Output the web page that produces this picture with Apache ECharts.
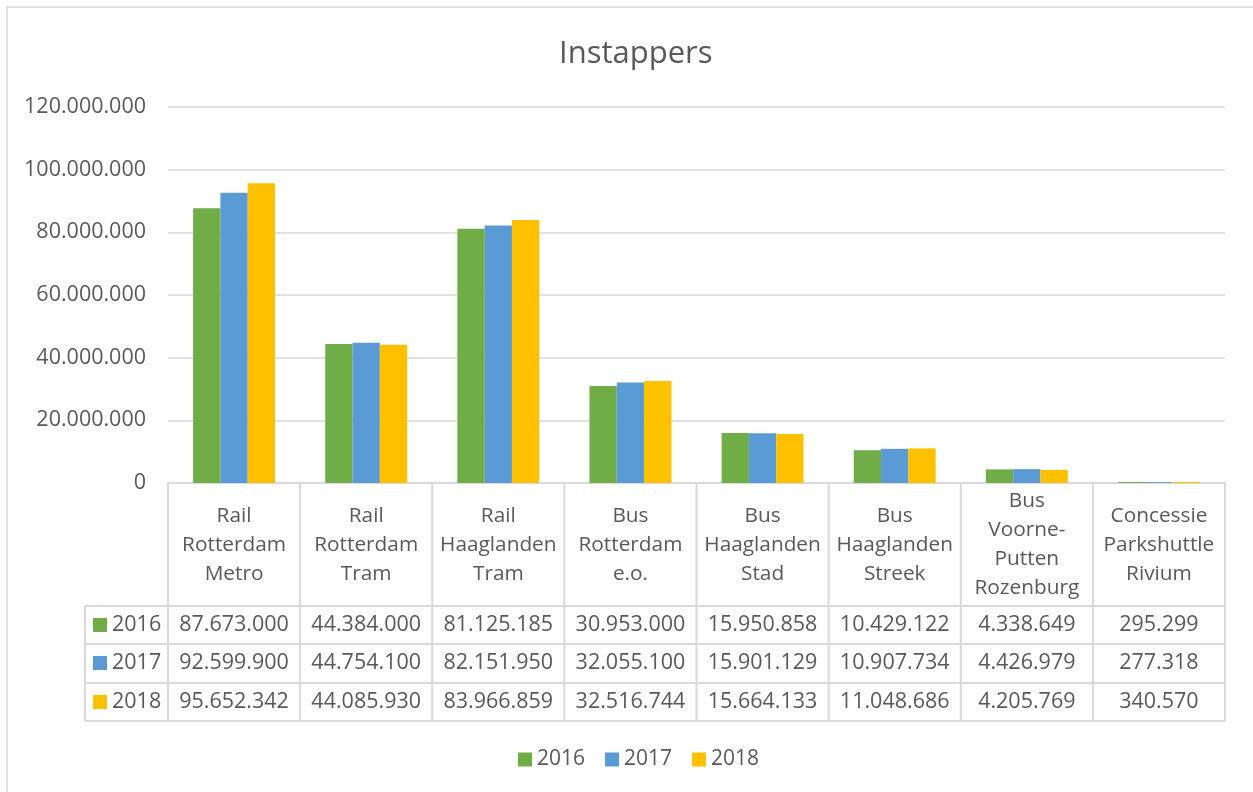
<!DOCTYPE html>
<html><head><meta charset="utf-8">
<script src="https://cdn.jsdelivr.net/npm/echarts@6/dist/echarts.min.js"></script>
<style>html,body{margin:0;padding:0;background:#fff}#c{width:1253px;height:792px}</style>
</head><body><div id="c"></div>
<script>
const categories = ['Rail\nRotterdam\nMetro','Rail\nRotterdam\nTram','Rail\nHaaglanden\nTram','Bus\nRotterdam\ne.o.','Bus\nHaaglanden\nStad','Bus\nHaaglanden\nStreek','Bus\nVoorne-\nPutten\nRozenburg','Concessie\nParkshuttle\nRivium'];
const seriesNames = ['2016','2017','2018'];
const v2016 = [87673000,44384000,81125185,30953000,15950858,10429122,4338649,295299];
const v2017 = [92599900,44754100,82151950,32055100,15901129,10907734,4426979,277318];
const v2018 = [95652342,44085930,83966859,32516744,15664133,11048686,4205769,340570];
const yTicks = [0,20000000,40000000,60000000,80000000,100000000,120000000];
const colors = ['#70AD47','#5B9BD5','#FFC000'];
const allValues = [v2016,v2017,v2018];

const FONT = 'Open Sans';
const TXT = '#595959';
const LINE = '#d9d9d9';
const NUM = 21.5;
const fmt = n => String(n).replace(/\B(?=(\d{3})+(?!\d))/g, '.');

const G = {left:168, right:28, top:107, bottom:309};
const rowCenters = [625, 663, 702]; // pixel rows of data table
const chart = echarts.init(document.getElementById('c'), null, {renderer:'canvas'});

const xAxes = [{
  type:'category', data:categories, gridIndex:0, position:'bottom',
  axisLine:{show:true, lineStyle:{color:LINE, width:2}},
  axisTick:{show:false},
  axisLabel:{interval:0, color:TXT, fontFamily:FONT, fontSize:20.8, lineHeight:29, margin:62, verticalAlign:'middle', align:'center'}
}];
allValues.forEach((vals, i) => {
  xAxes.push({
    type:'category', data:categories, gridIndex:0, position:'bottom',
    axisLine:{show:false}, axisTick:{show:false}, splitLine:{show:false},
    axisLabel:{interval:0, color:TXT, fontFamily:FONT, fontSize:NUM, margin: rowCenters[i]-483, verticalAlign:'middle', align:'center',
      formatter:(val, idx) => fmt(vals[idx])}
  });
});

const option = {
  animation:false,
  backgroundColor:'#fff',
  title:{text:'Instappers', left:554, top:34, textStyle:{color:TXT, fontFamily:FONT, fontSize:31, fontWeight:'normal'}},
  legend:{data:seriesNames, bottom:17, left:513, icon:'rect', itemWidth:14, itemHeight:14, itemGap:20,
    textStyle:{color:TXT, fontFamily:FONT, fontSize:21}},
  grid:G,
  xAxis:xAxes,
  yAxis:{type:'value', min:yTicks[0], max:yTicks[yTicks.length-1], interval:20000000,
    axisLine:{show:false}, axisTick:{show:false},
    splitLine:{lineStyle:{color:LINE, width:1.5}},
    axisLabel:{color:TXT, fontFamily:FONT, fontSize:NUM, margin:22, formatter:v => fmt(v)}},
  series: seriesNames.map((n,i) => ({
    name:n, type:'bar', xAxisIndex:0, data:allValues[i], barGap:'0%', barCategoryGap:'38%',
    itemStyle:{color:colors[i]}
  }))
};
chart.setOption(option);

// table lines & row headers built from the axis geometry
const x0 = chart.convertToPixel({xAxisIndex:0}, 0);
const x1 = chart.convertToPixel({xAxisIndex:0}, 1);
const band = x1 - x0;
const yZero = chart.convertToPixel({yAxisIndex:0}, 0);
const left = x0 - band/2;
const right = left + band*categories.length;
const headerBottom = 606, tableBottom = 721, legendLeft = 85;
const rowLines = [headerBottom, 644, 683, tableBottom];
const gfx = [];
const ls = {stroke:LINE, lineWidth:2};
gfx.push({type:'rect', shape:{x:7, y:7, width:1300, height:900}, style:{fill:null, stroke:LINE, lineWidth:1.5}, silent:true});
rowLines.forEach(y => gfx.push({type:'line', shape:{x1:legendLeft, y1:y, x2:right, y2:y}, style:ls}));
for (let i=0;i<=categories.length;i++){
  const x = left + band*i;
  gfx.push({type:'line', shape:{x1:x, y1:yZero, x2:x, y2:tableBottom}, style:ls});
}
gfx.push({type:'line', shape:{x1:legendLeft, y1:headerBottom, x2:legendLeft, y2:tableBottom}, style:ls});
seriesNames.forEach((n,i) => {
  const cy = rowCenters[i];
  gfx.push({type:'rect', shape:{x:93, y:cy-7, width:14, height:14}, style:{fill:colors[i]}});
  gfx.push({type:'text', x:112, y:cy, style:{text:n, fill:TXT, font:NUM+'px "'+FONT+'"', verticalAlign:'middle', align:'left'}});
});
chart.setOption({graphic:gfx});
</script>
</body></html>
